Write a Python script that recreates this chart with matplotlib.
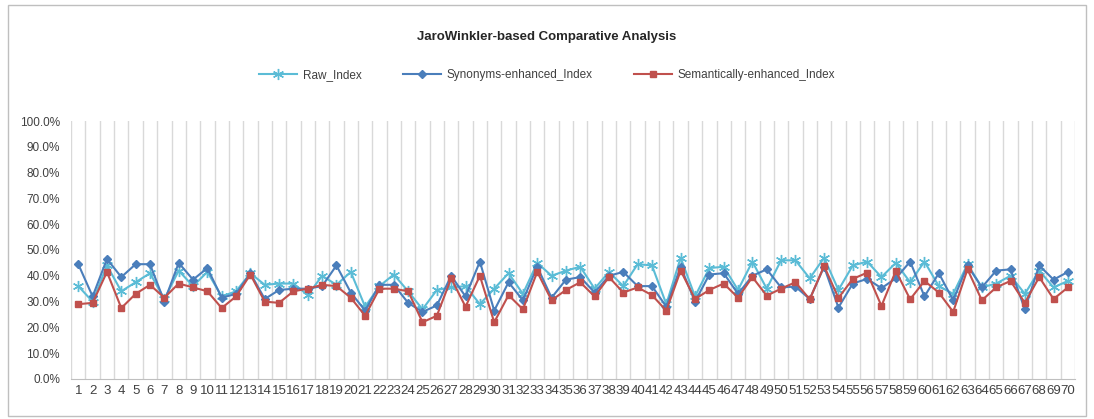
import matplotlib
matplotlib.use("Agg")
import matplotlib.pyplot as plt
from matplotlib.patches import Rectangle
from matplotlib.ticker import FuncFormatter, FixedLocator

categories = list(range(1, 71))
raw_index = [36, 30, 44, 34, 37.5, 41, 31, 42, 36, 41.5,
             32, 34, 41, 36.5, 37, 37, 32.5, 40, 36.5, 41.5,
             28, 36, 40.5, 34, 27, 34.5, 35.5, 36, 29, 35,
             41, 33, 45, 40, 42, 43.5, 35, 41.5, 36, 44.5,
             44, 29, 47, 32, 43, 43.5, 34.5, 45.5, 35, 46,
             46, 39, 47, 34.5, 44, 45.5, 39.5, 45, 37.5, 45.5,
             36, 33, 44.5, 35.5, 37, 40, 33, 42, 35.5, 38]
synonyms_index = [44.5, 32, 46.5, 39.5, 44.5, 44.5, 30, 45, 38.5, 43,
                  31.5, 33, 41, 31, 34.5, 35, 35, 36, 44, 33.5,
                  26.5, 36.5, 36.5, 29.5, 26, 28.5, 40, 32, 45.5, 26.5,
                  37.5, 30.5, 43.5, 31.5, 38.5, 39.5, 33.5, 40, 41.5, 36,
                  36, 28, 43.5, 30, 40.5, 41, 33, 40, 42.5, 35.5,
                  35.8, 31, 43.5, 27.7, 37, 38.8, 35.2, 39, 45.5, 32,
                  41, 30.5, 44, 35.5, 42, 42.5, 27, 44, 38.5, 41.5]
semantic_index = [29, 29.5, 41.5, 27.5, 33, 36.5, 31.5, 37, 35.5, 34,
                  27.5, 32, 40.5, 30, 29.5, 34, 35, 36.5, 36, 31.5,
                  24.5, 35, 35, 34, 22, 24.5, 39, 28, 40, 22,
                  32.5, 27, 41.5, 30.5, 34.5, 37.5, 32, 39.5, 33.5, 35.5,
                  32.5, 26.5, 42, 31, 34.5, 37, 31.5, 39.5, 32.3, 35,
                  37.5, 30.9, 43.8, 31.4, 38.8, 41.2, 28.3, 41.9, 30.9, 38,
                  33.5, 26, 42.5, 30.5, 35.5, 38, 29.5, 39.5, 31, 35.5]

y_ticks = [0, 10, 20, 30, 40, 50, 60, 70, 80, 90, 100]

plt.rcParams['font.family'] = ['Liberation Sans Narrow', 'Liberation Sans', 'DejaVu Sans']

fig = plt.figure(figsize=(10.94, 4.19), dpi=100)
fig.patches.append(Rectangle((0.007, 0.008), 0.986, 0.98, transform=fig.transFigure,
                             fill=False, edgecolor='#BFBFBF', linewidth=1.0))
ax = fig.add_axes([0.065, 0.0955, 0.9177, 0.6157])

c_raw = '#5BBCD6'
c_syn = '#4A7EBB'
c_sem = '#C0504D'

ax.plot(categories, raw_index, color=c_raw, lw=1.5, marker=(6, 2, 0), ms=8, mew=1.0,
        label='Raw_Index', zorder=3)
ax.plot(categories, synonyms_index, color=c_syn, lw=1.5, marker='D', ms=4.5,
        label='Synonyms-enhanced_Index', zorder=4)
ax.plot(categories, semantic_index, color=c_sem, lw=1.5, marker='s', ms=5,
        label='Semantically-enhanced_Index', zorder=5)

ax.set_xlim(0.5, 70.5)
ax.set_ylim(0, 100)
ax.set_xticks(categories)
ax.set_xticklabels([str(c) for c in categories], fontsize=9.5, color='#404040')
ax.xaxis.set_minor_locator(FixedLocator([i + 0.5 for i in range(0, 71)]))
ax.grid(True, which='minor', axis='x', color='#D9D9D9', lw=1.0)
ax.grid(False, which='major')
ax.tick_params(axis='x', which='both', length=0, pad=4)
ax.set_yticks(y_ticks)
ax.yaxis.set_major_formatter(FuncFormatter(lambda v, p: f"{v:.1f}%"))
ax.tick_params(axis='y', length=0, labelsize=8.5, pad=8, labelcolor='#404040')
for s in ['top', 'right', 'left']:
    ax.spines[s].set_visible(False)
ax.spines['bottom'].set_color('#BFBFBF')

fig.text(0.5, 0.912, 'JaroWinkler-based Comparative Analysis', ha='center', va='center',
         fontsize=9.5, fontweight='bold', color='#262626')
leg = fig.legend(loc='center', bbox_to_anchor=(0.5, 0.82), ncol=3, frameon=False,
                 fontsize=8.5, handlelength=3.2, columnspacing=3.5, handletextpad=0.5)
for t in leg.get_texts():
    t.set_color('#404040')

fig.savefig('out.png', dpi=100)
